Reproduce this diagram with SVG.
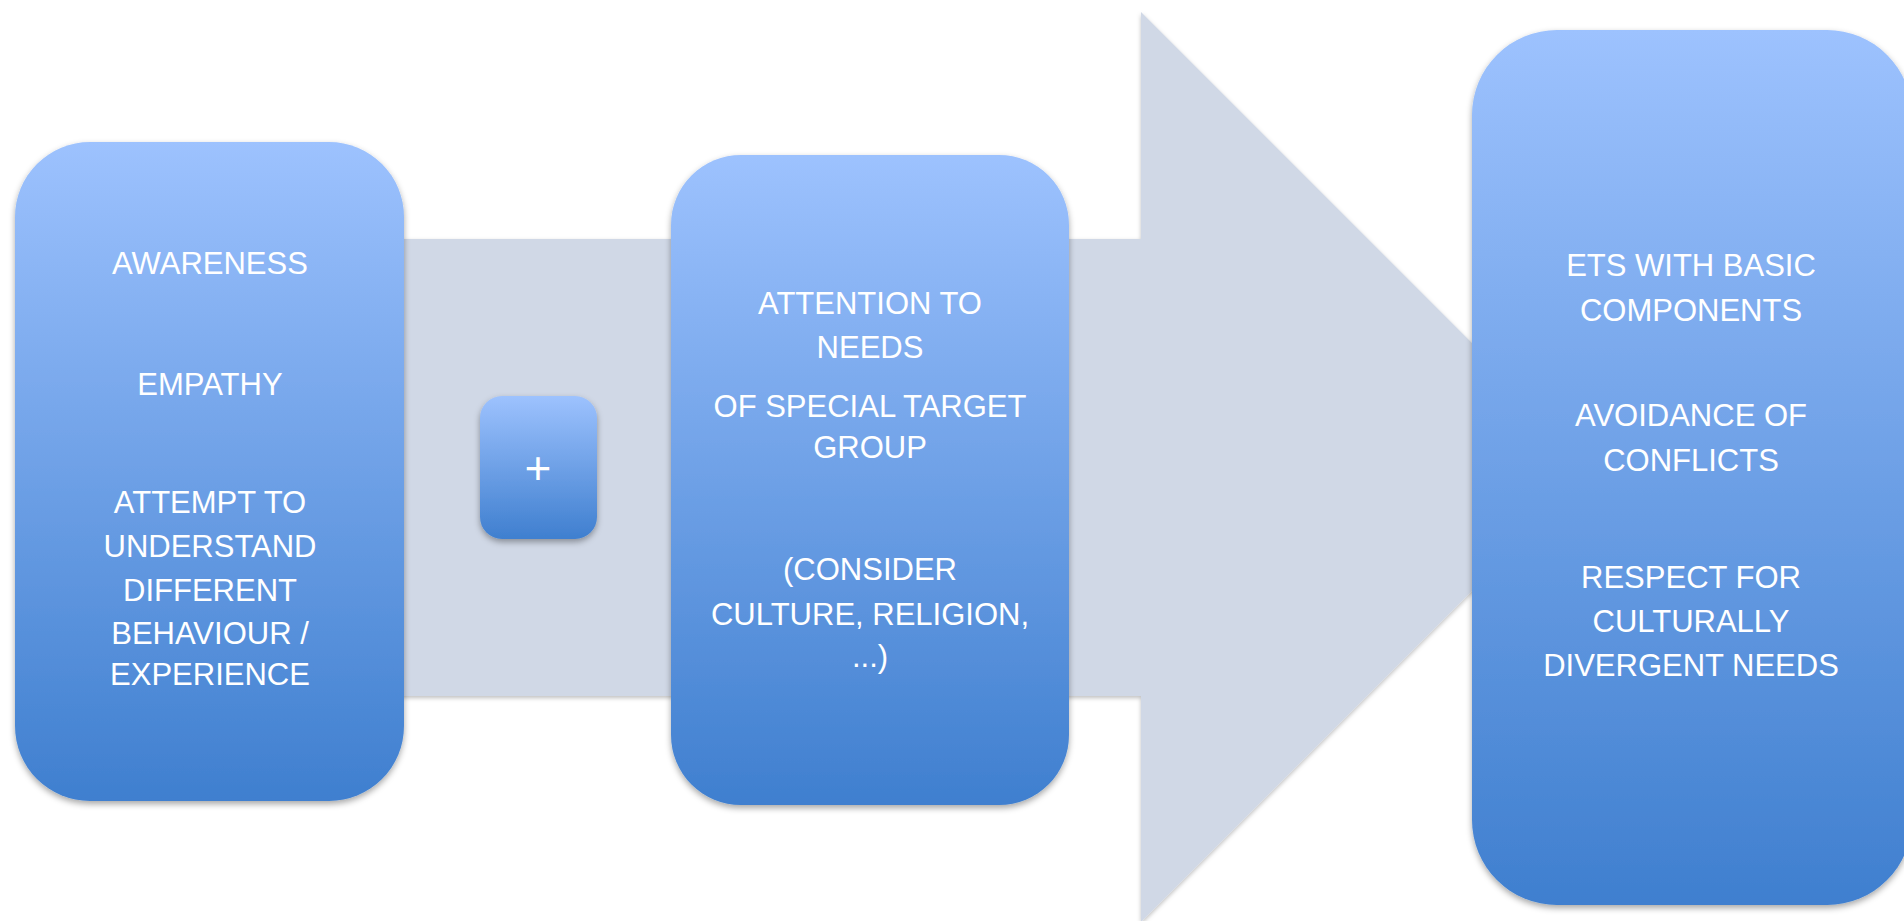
<svg xmlns="http://www.w3.org/2000/svg" width="1904" height="921" viewBox="0 0 1904 921">
<defs>
<linearGradient id="blueGrad" x1="0" y1="0" x2="0" y2="1">
<stop offset="0" stop-color="#9dc2fe"/>
<stop offset="1" stop-color="#3f7fcf"/>
</linearGradient>
<filter id="shadow" x="-10%" y="-10%" width="120%" height="120%">
<feDropShadow dx="0" dy="3" stdDeviation="3" flood-color="#000" flood-opacity="0.35"/>
</filter>
<filter id="ashadow" x="-5%" y="-5%" width="110%" height="110%">
<feDropShadow dx="0" dy="2" stdDeviation="2" flood-color="#000" flood-opacity="0.25"/>
</filter>
</defs>
<style>
.box{fill:url(#blueGrad);filter:url(#shadow);}
.t{font-family:"Liberation Sans",Arial,sans-serif;font-size:31px;fill:#ffffff;text-anchor:middle;}
.plus{font-size:46px;}
</style>
<rect width="1904" height="921" fill="#ffffff"/>
<g id="connectors">
<polygon points="60,239 1141,239 1141,12 1596,467 1141,922 1141,696 60,696" fill="#d0d8e6" filter="url(#ashadow)"/>
</g>
<g id="node-left">
<rect class="box" x="15" y="142" width="389" height="659" rx="75" ry="75"/>
<text class="t" x="210" y="274">AWARENESS</text>
<text class="t" x="210" y="395">EMPATHY</text>
<text class="t" x="210" y="513">ATTEMPT TO</text>
<text class="t" x="210" y="557">UNDERSTAND</text>
<text class="t" x="210" y="601">DIFFERENT</text>
<text class="t" x="210" y="644">BEHAVIOUR /</text>
<text class="t" x="210" y="685">EXPERIENCE</text>
</g>
<g id="node-plus">
<rect class="box" x="480" y="396" width="117" height="143" rx="22" ry="22"/>
<text class="t plus" x="538" y="484">+</text>
</g>
<g id="node-middle">
<rect class="box" x="671" y="155" width="398" height="650" rx="70" ry="70"/>
<text class="t" x="870" y="314">ATTENTION TO</text>
<text class="t" x="870" y="358">NEEDS</text>
<text class="t" x="870" y="417">OF SPECIAL TARGET</text>
<text class="t" x="870" y="458">GROUP</text>
<text class="t" x="870" y="580">(CONSIDER</text>
<text class="t" x="870" y="625">CULTURE, RELIGION,</text>
<text class="t" x="870" y="667">...)</text>
</g>
<g id="node-right">
<rect class="box" x="1472" y="30" width="440" height="875" rx="85" ry="85"/>
<text class="t" x="1691" y="276">ETS WITH BASIC</text>
<text class="t" x="1691" y="321">COMPONENTS</text>
<text class="t" x="1691" y="426">AVOIDANCE OF</text>
<text class="t" x="1691" y="471">CONFLICTS</text>
<text class="t" x="1691" y="588">RESPECT FOR</text>
<text class="t" x="1691" y="632">CULTURALLY</text>
<text class="t" x="1691" y="676">DIVERGENT NEEDS</text>
</g>
</svg>
